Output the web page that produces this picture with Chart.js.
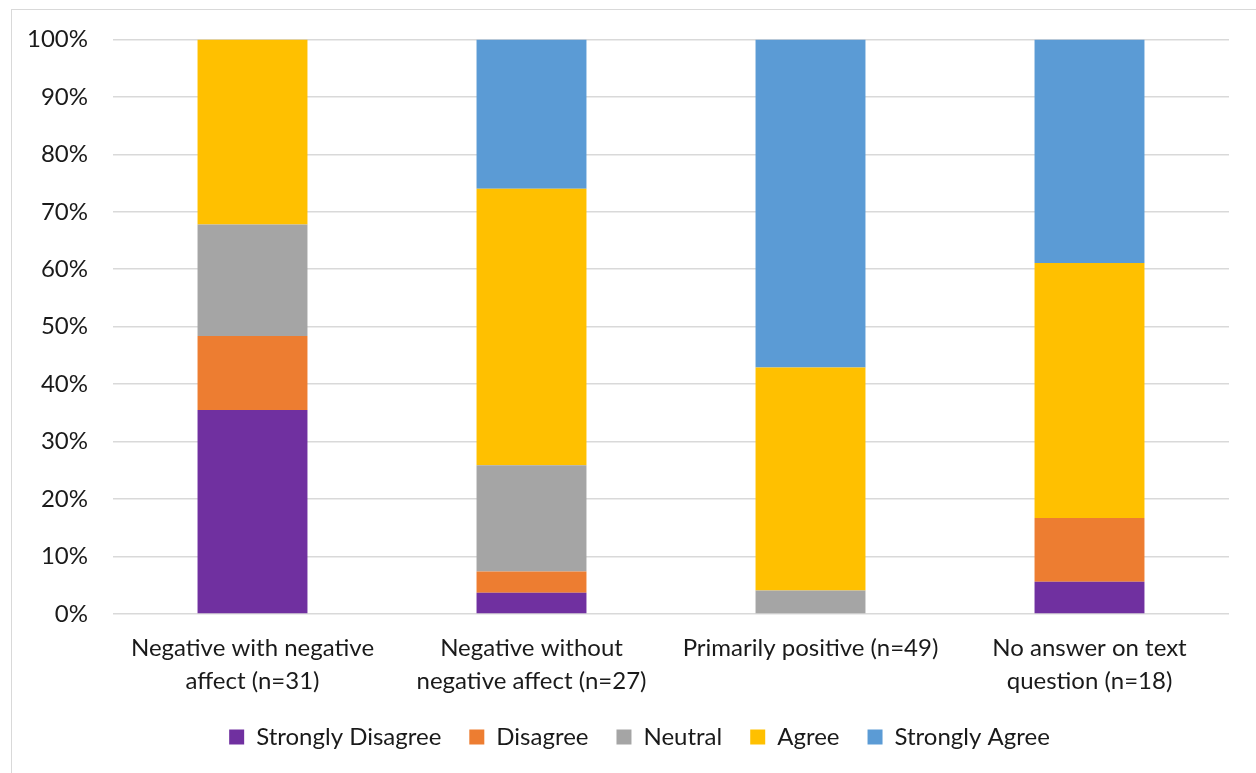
<!DOCTYPE html>
<html>
<head>
<meta charset="utf-8">
<script src="https://cdn.jsdelivr.net/npm/chart.js@4.4.1/dist/chart.umd.min.js"></script>
<style>
  html, body { margin: 0; padding: 0; background: #fff; }
  body { width: 1256px; height: 773px; position: relative; overflow: hidden; }
  #frame { position: absolute; left: 11px; top: 9px; width: 1260px; height: 780px;
           border: 1px solid #d9d9d9; box-sizing: border-box; }
  #wrap { position: absolute; left: 0; top: 0; width: 1256px; height: 773px; }
</style>
</head>
<body>
<div id="frame"></div>
<div id="wrap"><canvas id="chart" width="1256" height="773"></canvas></div>
<script>
// Response groups (x-axis categories), each split over two lines
const categories = [
  ['Negative with negative', 'affect (n=31)'],
  ['Negative without', 'negative affect (n=27)'],
  ['Primarily positive (n=49)'],
  ['No answer on text', 'question (n=18)']
];

// Share of responses (%) per answer option, one value per group
const stronglyDisagree = [35.5, 3.7, 0, 5.6];
const disagree         = [12.9, 3.7, 0, 11.1];
const neutral          = [19.4, 18.5, 4.1, 0];
const agree            = [32.2, 48.1, 38.8, 44.4];
const stronglyAgree    = [0, 26.0, 57.1, 38.9];

const seriesNames  = ['Strongly Disagree', 'Disagree', 'Neutral', 'Agree', 'Strongly Agree'];
const seriesColors = ['#7030A0', '#ED7D31', '#A5A5A5', '#FFC000', '#5B9BD5'];
const seriesValues = [stronglyDisagree, disagree, neutral, agree, stronglyAgree];

const FONT = "Lato, 'Open Sans', sans-serif";

// Centre the legend on the whole canvas rather than on the padded box
const legendShift = {
  id: 'legendShift',
  afterLayout(chart) {
    const lg = chart.legend;
    if (lg) { lg.left += 25; lg.right += 25; }
  }
};

new Chart(document.getElementById('chart'), {
  type: 'bar',
  plugins: [legendShift],
  data: {
    labels: categories,
    datasets: seriesNames.map((name, i) => ({
      label: name,
      data: seriesValues[i],
      backgroundColor: seriesColors[i],
      borderWidth: 0,
      categoryPercentage: 1,
      barPercentage: 0.394
    }))
  },
  options: {
    responsive: false,
    animation: false,
    layout: { padding: { top: 39, right: 27, bottom: 14, left: 0 } },
    plugins: {
      tooltip: { enabled: false },
      legend: {
        position: 'bottom',
        labels: {
          font: { family: FONT, size: 24 },
          color: '#1a1a1a',
          boxWidth: 15,
          boxHeight: 15,
          padding: 28
        }
      }
    },
    scales: {
      x: {
        stacked: true,
        grid: { display: false, drawTicks: false },
        border: { display: false },
        afterFit: (scale) => { scale.height = scale.height - 19; },
        ticks: {
          font: { family: FONT, size: 24, lineHeight: 1.375 },
          color: '#1a1a1a',
          padding: 18,
          maxRotation: 0,
          autoSkip: false
        }
      },
      y: {
        stacked: true,
        min: 0,
        max: 100,
        grid: { color: '#d9d9d9', lineWidth: 1.5, drawTicks: false },
        border: { display: false },
        afterFit: (scale) => { scale.width = 113; },
        ticks: {
          stepSize: 10,
          font: { family: FONT, size: 24 },
          color: '#1a1a1a',
          padding: 25,
          callback: (v) => v + '%'
        }
      }
    }
  }
});
</script>
</body>
</html>
